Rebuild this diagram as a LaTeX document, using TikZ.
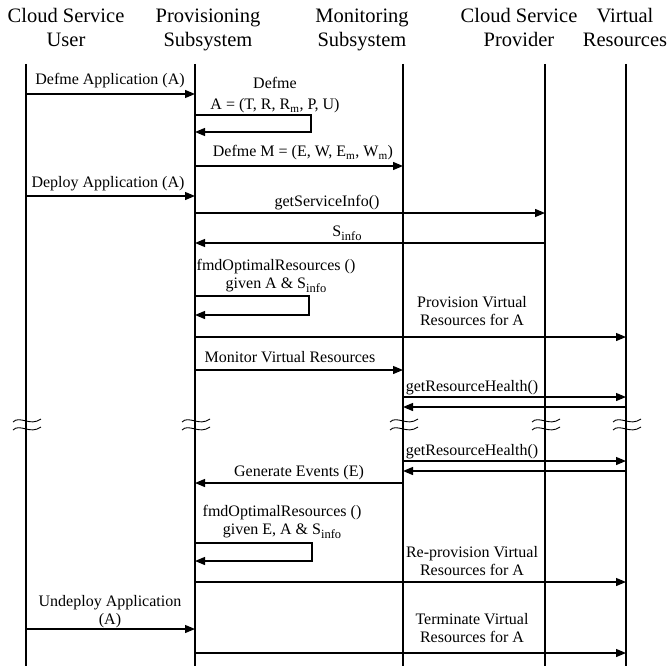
\documentclass[tikz,border=0pt]{standalone}
\usepackage{fontspec}
\setmainfont{Liberation Serif}
\usetikzlibrary{arrows.meta}
\newcommand\headfont{\fontsize{20.5}{24}\selectfont}
\newcommand\lblfont{\fontsize{16}{17.5}\selectfont}
% lowered, slightly reduced index text
\newcommand\lowsub[1]{\raisebox{-0.28em}{\fontsize{12.5}{12.5}\selectfont #1}}

\begin{document}
\begin{tikzpicture}[x=1pt,y=-1pt,
  lifeline/.style={line width=1.4pt},
  msg/.style={line width=1.2pt,-{Triangle[length=10pt,width=8pt]}},
  head/.style={font=\headfont,align=center,anchor=base,inner sep=0pt},
  lbl/.style={font=\lblfont,align=center,anchor=base,inner sep=0pt},
  brk/.pic={
    \draw[line width=0.9pt] (-13,-2) .. controls (-6,-9) and (4,3) .. (15,-5);
    \draw[line width=0.9pt] (-13,6) .. controls (-6,-1) and (4,11) .. (15,3);
  }]
\useasboundingbox (0,0) rectangle (669,666);

% participants (node base = baseline of the last line)
\node[head] (hU) at (66,47) {Cloud Service\\User};
\node[head] (hP) at (208,47) {Provisioning\\Subsystem};
\node[head] (hM) at (362,47) {Monitoring\\Subsystem};
\node[head] (hC) at (519,47) {Cloud Service\\Provider};
\node[head] (hV) at (625,47) {Virtual\\Resources};

% lifelines
\coordinate (U) at (26,64);  \coordinate (Ub) at (26,666);
\coordinate (P) at (195,64); \coordinate (Pb) at (195,666);
\coordinate (M) at (403,64); \coordinate (Mb) at (403,666);
\coordinate (C) at (545,64); \coordinate (Cb) at (545,666);
\coordinate (V) at (626,64); \coordinate (Vb) at (626,666);
\foreach \a/\b in {U/Ub,P/Pb,M/Mb,C/Cb,V/Vb}
  \draw[lifeline] (\a) -- (\b);

% time breaks on every lifeline
\foreach \a in {U,P,M,C,V}
  \pic at (\a |- 0,424) {brk};

% define application
\node[lbl] (t1) at (110,85) {Defme Application (A)};
\draw[msg] (U |- 0,94) -- (P |- 0,94);

\node[lbl] (t2) at (275,110) {Defme\\[3.5pt]A = (T, R, R\textsubscript{m}, P, U)};
\coordinate (l1a) at (311,115); \coordinate (l1b) at (311,132);
\draw[msg] (P |- l1a) -- (l1a) -- (l1b) -- (P |- l1b);

\node[lbl] (t3) at (303,157) {Defme M = (E, W, E\textsubscript{m}, W\textsubscript{m})};
\draw[msg] (P |- 0,166) -- (M |- 0,166);

% deploy application
\node[lbl] (t4) at (108,187) {Deploy Application (A)};
\draw[msg] (U |- 0,196) -- (P |- 0,196);

\node[lbl] (t5) at (327,206) {getServiceInfo()};
\draw[msg] (P |- 0,213) -- (C |- 0,213);

\node[lbl] (t6) at (347,236) {S\lowsub{info}};
\draw[msg] (C |- 0,243) -- (P |- 0,243);

\node[lbl] (t7) at (276,288) {fmdOptimalResources ()\\given A \& S\lowsub{info}};
\coordinate (l2a) at (309,296); \coordinate (l2b) at (309,315);
\draw[msg] (P |- l2a) -- (l2a) -- (l2b) -- (P |- l2b);

\node[lbl] (t8) at (472,325) {Provision Virtual\\Resources for A};
\draw[msg] (P |- 0,337) -- (V |- 0,337);

% monitoring
\node[lbl] (t9) at (290,362) {Monitor Virtual Resources};
\draw[msg] (P |- 0,370) -- (M |- 0,370);

\node[lbl] (t10) at (472,391) {getResourceHealth()};
\draw[msg] (M |- 0,397) -- (V |- 0,397);
\draw[msg] (V |- 0,407) -- (M |- 0,407);

\node[lbl] (t11) at (472,455) {getResourceHealth()};
\draw[msg] (M |- 0,461) -- (V |- 0,461);
\draw[msg] (V |- 0,471) -- (M |- 0,471);

\node[lbl] (t12) at (299,476) {Generate Events (E)};
\draw[msg] (M |- 0,483) -- (P |- 0,483);

\node[lbl] (t13) at (282,534) {fmdOptimalResources ()\\given E, A \& S\lowsub{info}};
\coordinate (l3a) at (312,543); \coordinate (l3b) at (312,561);
\draw[msg] (P |- l3a) -- (l3a) -- (l3b) -- (P |- l3b);

\node[lbl] (t14) at (472,575) {Re-provision Virtual\\Resources for A};
\draw[msg] (P |- 0,582) -- (V |- 0,582);

% undeploy application
\node[lbl] (t15) at (110,624) {Undeploy Application\\(A)};
\draw[msg] (U |- 0,629) -- (P |- 0,629);

\node[lbl] (t16) at (472,642) {Terminate Virtual\\Resources for A};
\draw[msg] (P |- 0,653) -- (V |- 0,653);
\end{tikzpicture}
\end{document}
